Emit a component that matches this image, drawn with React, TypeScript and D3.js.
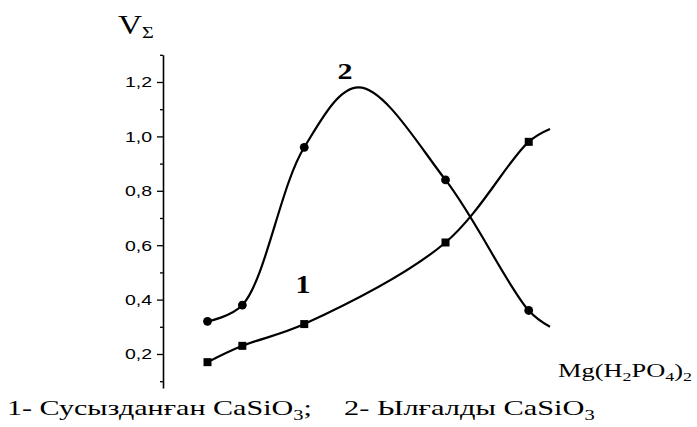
import { useEffect, useRef } from 'react'
import * as d3 from 'd3'

const W = 697
const H = 427

// Mg(H2PO4)2 dose (arbitrary units, no x ticks in the figure)
const doseX = [1.15, 2.05, 3.65, 7.3, 9.45]
// 1 - dehydrated CaSiO3 (squares)
const dryValues = [0.17, 0.23, 0.31, 0.61, 0.98]
// 2 - moist CaSiO3 (circles)
const wetValues = [0.32, 0.38, 0.96, 0.84, 0.36]
// shape points (no markers): peak of 2 and the right-hand ends
const wetPeak: [number, number] = [5.05, 1.18]
const curveEndX = 10
const dryEnd = 1.027
const wetEnd = 0.3

const majorTicks = [0.2, 0.4, 0.6, 0.8, 1.0, 1.2]
const minorTicks = [0.1, 0.3, 0.5, 0.7, 0.9, 1.1, 1.3]

const SERIF = '"Liberation Serif", "Times New Roman", serif'
const SANS = '"Liberation Sans", Arial, sans-serif'

type Sel = d3.Selection<any, unknown, null, undefined>

// the source picture is stretched sideways, so text is squeezed into the width it has there
function fitText(parent: Sel, x: number, y: number, width: number, build: (t: Sel) => void, anchor = 'start') {
  const g = parent.append('g')
  const t = g.append('text').attr('text-anchor', anchor).attr('fill', '#000')
  build(t)
  const w = (t.node() as SVGTextElement).getBBox().width || width
  g.attr('transform', `translate(${x},${y}) scale(${width / w},1)`)
}

function chem(t: Sel, parts: [string, boolean][], size: number) {
  parts.forEach(([s, sub], i) => {
    const prevSub = i > 0 && parts[i - 1][1]
    const ts = t.append('tspan').text(s)
    if (sub) ts.attr('font-size', size * 0.68).attr('dy', size * 0.22)
    else if (prevSub) ts.attr('dy', -size * 0.22)
  })
}

export default function App() {
  const svgRef = useRef<SVGSVGElement>(null)

  useEffect(() => {
    if (!svgRef.current) return
    const svg = d3.select(svgRef.current)
    svg.selectAll('*').remove()

    const x = d3.scaleLinear().domain([0, 10]).range([163, 550])
    const y = d3.scaleLinear().domain([0.075, 1.3]).range([388, 54.8])

    // Y axis
    const yAxis = svg.append('g')
      .attr('transform', `translate(${x(0)},0)`)
      .call(d3.axisLeft(y)
        .tickValues(majorTicks)
        .tickSize(6)
        .tickSizeOuter(0)
        .tickFormat(d => (+d).toFixed(1).replace('.', ',')))
    yAxis.select('.domain').attr('stroke-width', 1.6).attr('stroke', '#000')
    yAxis.selectAll('.tick line').attr('stroke-width', 1.3).attr('stroke', '#000')
    yAxis.selectAll('.tick text')
      .attr('font-family', SANS)
      .attr('font-size', 15)
      .attr('fill', '#000')
      .attr('x', -11 / 1.3)
      .attr('transform', 'scale(1.3,1)')

    const minor = svg.append('g')
      .attr('transform', `translate(${x(0)},0)`)
      .call(d3.axisLeft(y).tickValues(minorTicks).tickSize(3).tickSizeOuter(0).tickFormat(() => ''))
    minor.select('.domain').remove()
    minor.selectAll('.tick line').attr('stroke-width', 1.3).attr('stroke', '#000')

    // curves
    const dryPts: [number, number][] = doseX.map((d, i) => [d, dryValues[i]] as [number, number])
      .concat([[curveEndX, dryEnd]])
    const wetPts: [number, number][] = doseX.map((d, i) => [d, wetValues[i]] as [number, number])
      .concat([wetPeak, [curveEndX, wetEnd]])
      .sort((a, b) => a[0] - b[0])

    const line = d3.line<[number, number]>()
      .x(d => x(d[0]))
      .y(d => y(d[1]))
      .curve(d3.curveCatmullRom.alpha(0.5))

    svg.append('path').attr('d', line(dryPts)).attr('fill', 'none').attr('stroke', '#000').attr('stroke-width', 2.2)
    svg.append('path').attr('d', line(wetPts)).attr('fill', 'none').attr('stroke', '#000').attr('stroke-width', 2.2)

    // markers
    svg.selectAll('.sq')
      .data(dryValues)
      .enter().append('rect')
      .attr('class', 'sq')
      .attr('x', (d, i) => x(doseX[i]) - 4)
      .attr('y', d => y(d) - 4)
      .attr('width', 8)
      .attr('height', 8)
      .attr('fill', '#000')

    svg.selectAll('.dot')
      .data(wetValues)
      .enter().append('circle')
      .attr('class', 'dot')
      .attr('cx', (d, i) => x(doseX[i]))
      .attr('cy', d => y(d))
      .attr('r', 4.4)
      .attr('fill', '#000')

    // curve numbers
    fitText(svg, 303, 293, 15, t => t.attr('font-family', SERIF).attr('font-size', 25).attr('font-weight', 'bold').text('1'), 'middle')
    fitText(svg, 345, 79, 15, t => t.attr('font-family', SERIF).attr('font-size', 24).attr('font-weight', 'bold').text('2'), 'middle')

    // axis titles
    fitText(svg, 118, 34, 36, t => {
      t.attr('font-family', SERIF).attr('font-size', 28)
      t.append('tspan').text('V')
      t.append('tspan').text('Σ').attr('font-size', 17).attr('dy', 4)
    })
    fitText(svg, 558, 377, 134, t => {
      t.attr('font-family', SERIF).attr('font-size', 19)
      chem(t, [['Mg(H', false], ['2', true], ['PO', false], ['4', true], [')', false], ['2', true]], 19)
    })

    // legend line
    fitText(svg, 7, 415, 305, t => {
      t.attr('font-family', SERIF).attr('font-size', 22)
      chem(t, [['1- Сусызданған CaSiO', false], ['3', true], [';', false]], 22)
    })
    fitText(svg, 344, 415, 251, t => {
      t.attr('font-family', SERIF).attr('font-size', 22)
      chem(t, [['2- Ылғалды CaSiO', false], ['3', true]], 22)
    })
  }, [])

  return (
    <svg
      ref={svgRef}
      width={W}
      height={H}
      style={{ position: 'absolute', left: 0, top: 0, background: '#fff' }}
    />
  )
}
